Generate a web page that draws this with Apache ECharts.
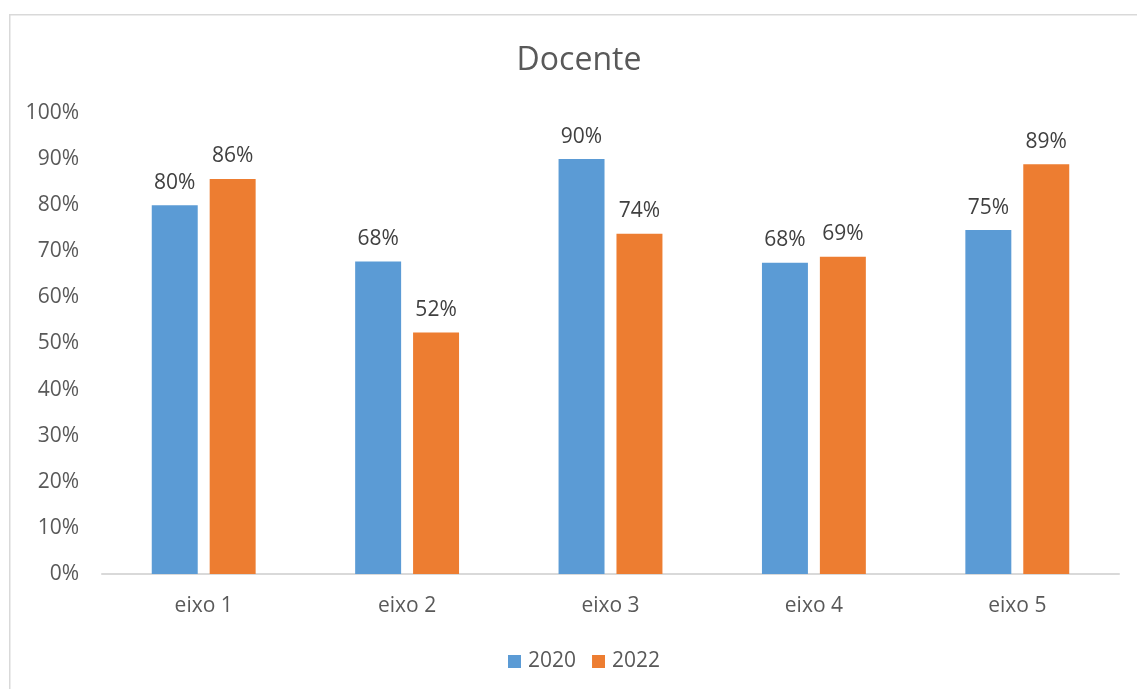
<!DOCTYPE html>
<html>
<head>
<meta charset="utf-8">
<script src="https://cdn.jsdelivr.net/npm/echarts@6/dist/echarts.min.js"></script>
<style>
html,body{margin:0;padding:0;background:#fff;}
#c{width:1137px;height:689px;}
</style>
</head>
<body>
<div id="c"></div>
<script>
const categories = ['eixo 1', 'eixo 2', 'eixo 3', 'eixo 4', 'eixo 5'];
const seriesNames = ['2020', '2022'];
const values2020 = [0.80, 0.678, 0.90, 0.675, 0.746];
const values2022 = [0.857, 0.524, 0.738, 0.688, 0.889];
const yTicks = [0, 0.1, 0.2, 0.3, 0.4, 0.5, 0.6, 0.7, 0.8, 0.9, 1.0];

const FONT = '"Open Sans", "Noto Sans", sans-serif';
const chart = echarts.init(document.getElementById('c'), null, {renderer: 'canvas'});
const pct = v => Math.round(v * 100) + '%';
const labelCfg = {
  show: true, position: 'top', distance: 12,
  color: '#404040', fontSize: 21, fontFamily: FONT,
  formatter: p => pct(p.value)
};
chart.setOption({
  backgroundColor: '#fff',
  animation: false,
  graphic: [{
    type: 'rect', left: 9, top: 14, z: -1,
    shape: {x: 0, y: 0, width: 1200, height: 700},
    style: {fill: '#fff', stroke: '#d9d9d9', lineWidth: 1.5}
  }],
  title: {
    text: 'Docente', left: 574, top: 40, textAlign: 'center',
    textStyle: {color: '#595959', fontSize: 32, fontWeight: 'normal', fontFamily: FONT}
  },
  legend: {
    data: seriesNames, top: 646, left: 503,
    itemWidth: 13, itemHeight: 13, itemGap: 16,
    icon: 'rect',
    textStyle: {color: '#595959', fontSize: 21, fontFamily: FONT, padding: [0, 0, 0, 2]}
  },
  grid: {left: 102, right: 18, top: 113, bottom: 115, containLabel: false},
  xAxis: {
    type: 'category', data: categories,
    axisLine: {lineStyle: {color: '#d9d9d9', width: 2}},
    axisTick: {show: false},
    axisLabel: {color: '#595959', fontSize: 21, fontFamily: FONT, margin: 22}
  },
  yAxis: {
    type: 'value', min: 0, max: 1, interval: 0.1,
    axisLine: {show: false}, axisTick: {show: false},
    splitLine: {show: false},
    axisLabel: {
      color: '#595959', fontSize: 21, fontFamily: FONT, margin: 23,
      formatter: v => pct(v)
    }
  },
  series: [
    {name: seriesNames[0], type: 'bar', data: values2020, barWidth: '22.6%', barGap: '26%',
     itemStyle: {color: '#5B9BD5'}, label: labelCfg},
    {name: seriesNames[1], type: 'bar', data: values2022, barWidth: '22.6%', barGap: '26%',
     itemStyle: {color: '#ED7D31'}, label: labelCfg}
  ]
});
</script>
</body>
</html>
